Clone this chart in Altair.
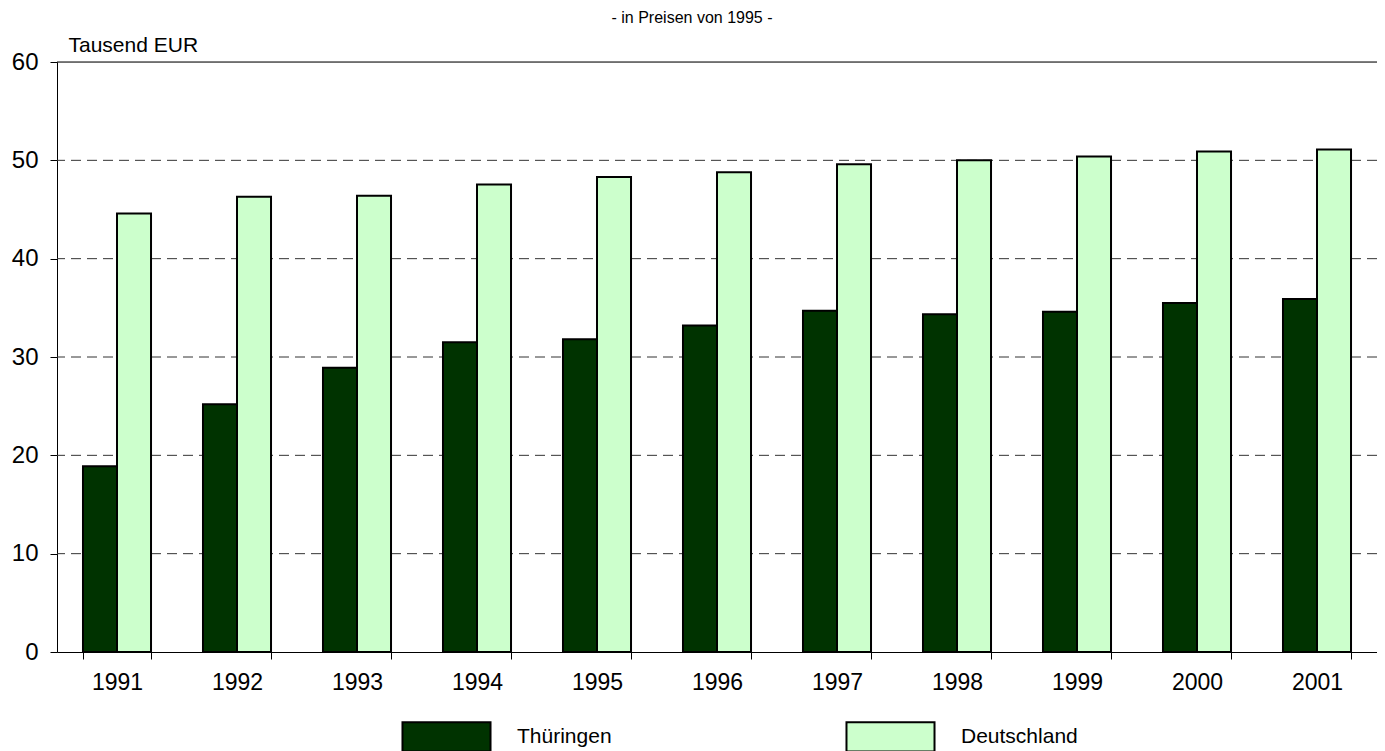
import altair as alt
import pandas as pd

years = ["1991", "1992", "1993", "1994", "1995", "1996", "1997", "1998", "1999", "2000", "2001"]
thueringen = [18.9, 25.2, 28.9, 31.5, 31.8, 33.2, 34.7, 34.35, 34.6, 35.5, 35.9]
deutschland = [44.6, 46.3, 46.4, 47.55, 48.3, 48.8, 49.6, 50.0, 50.4, 50.9, 51.1]
series = ["Thüringen", "Deutschland"]
colors = ["#003300", "#CCFFCC"]
y_ticks = [0, 10, 20, 30, 40, 50, 60]
grid_values = [10, 20, 30, 40, 50]

rows = []
for i, yr in enumerate(years):
    rows.append({"Jahr": yr, "Region": series[0], "value": thueringen[i]})
    rows.append({"Jahr": yr, "Region": series[1], "value": deutschland[i]})
df = pd.DataFrame(rows)

FONT = "Liberation Sans"

y_enc = alt.Y(
    "value:Q",
    scale=alt.Scale(domain=[0, 60], nice=False),
    axis=alt.Axis(
        values=y_ticks,
        title="Tausend EUR",
        titleAngle=0,
        titleAlign="left",
        titleBaseline="alphabetic",
        titleX=11,
        titleY=-11,
        titleFont=FONT,
        titleFontSize=21,
        titleFontWeight="normal",
        titleColor="black",
        labelFont=FONT,
        labelFontSize=24,
        labelColor="black",
        labelPadding=12,
        tickSize=7,
        tickColor="black",
        domainColor="black",
        grid=False,
    ),
)

bars = alt.Chart(df).mark_bar(stroke="black", strokeWidth=2).encode(
    x=alt.X(
        "Jahr:N",
        sort=years,
        scale=alt.Scale(paddingInner=0.433, paddingOuter=0.2165),
        axis=alt.Axis(
            title=None,
            labelAngle=0,
            labelFont=FONT,
            labelFontSize=23,
            labelColor="black",
            labelPadding=12,
            tickSize=7,
            tickColor="black",
            tickBand="extent",
            domainColor="black",
            grid=False,
        ),
    ),
    xOffset=alt.XOffset("Region:N", sort=series, scale=alt.Scale(paddingInner=0, paddingOuter=0)),
    y=y_enc,
    color=alt.Color(
        "Region:N",
        sort=series,
        scale=alt.Scale(domain=series, range=colors),
        legend=alt.Legend(
            title=None,
            orient="none",
            direction="horizontal",
            legendX=359,
            legendY=644,
            symbolType="M-1.5,-0.5H1.5V0.5H-1.5Z",
            symbolSize=3444,
            symbolStrokeColor="black",
            symbolStrokeWidth=2,
            symbolOpacity=1,
            labelFont=FONT,
            labelFontSize=21,
            labelColor="black",
            labelOffset=40,
            columnPadding=230,
        ),
    ),
)

grid_df = pd.DataFrame({"value": grid_values})
grid = alt.Chart(grid_df).mark_rule(color="#333333", strokeWidth=1, strokeDash=[10, 6]).encode(y=y_enc)

top_df = pd.DataFrame({"value": [60]})
top_line = alt.Chart(top_df).mark_rule(color="black", strokeWidth=1).encode(y=y_enc)

chart = alt.layer(grid, top_line, bars).properties(
    width=1320,
    height=590,
    autosize=alt.AutoSizeParams(type="none"),
    padding={"left": 49, "top": 54, "right": 0, "bottom": 100},
    title=alt.TitleParams(
        "- in Preisen von 1995 -",
        font=FONT,
        fontSize=16,
        fontWeight="normal",
        color="black",
        anchor="middle",
        dx=-25,
        offset=8,
    ),
).configure_view(stroke="#808080", strokeWidth=1).configure(background="white")

chart.save("out.html", embed_options={"renderer": "svg", "actions": False})
